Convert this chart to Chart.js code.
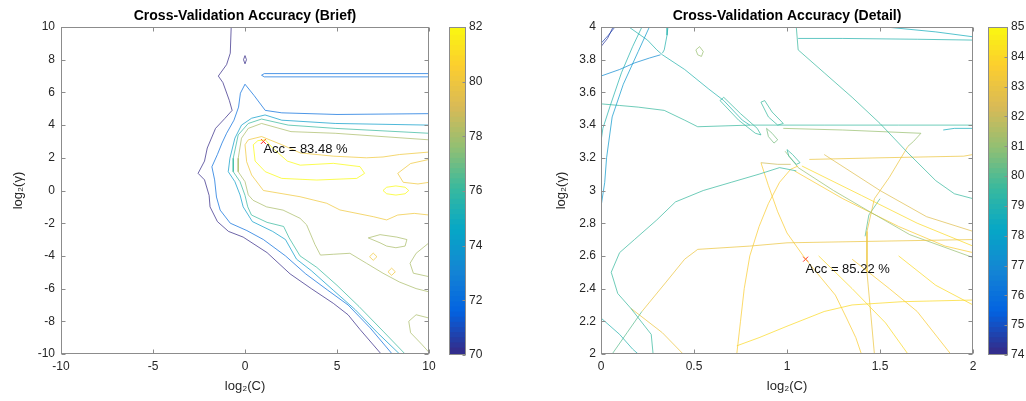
<!DOCTYPE html>
<html>
<head>
<meta charset="utf-8">
<script src="https://cdn.jsdelivr.net/npm/chart.js@4.4.1/dist/chart.umd.min.js"></script>
<style>
  body { margin: 0; background: #fff; width: 1026px; height: 401px; overflow: hidden; position: relative; }
  canvas { position: absolute; top: 0; }
</style>
</head>
<body>
<canvas id="brief" width="445" height="401" style="left:0px"></canvas>
<canvas id="briefBar" width="60" height="401" style="left:440px"></canvas>
<canvas id="detail" width="470" height="401" style="left:520px"></canvas>
<canvas id="detailBar" width="46" height="401" style="left:980px"></canvas>
<script>
// ---- brief grid search: log2(C) x log2(gamma), accuracy contours (%)
var briefXTicks = [-10, -5, 0, 5, 10];
var briefYTicks = [-10, -8, -6, -4, -2, 0, 2, 4, 6, 8, 10];
var briefCbarTicks = [70, 72, 74, 76, 78, 80, 82];
var briefBest = [1, 3];
var briefAcc = 83.48;

var brief70 = [[-0.75,10],[-0.8,8.4],[-1.0,7.7],[-1.45,7.0],[-1.2,6.6],[-0.85,5.5],[-0.7,4.9],[-1.1,4.4],[-1.6,3.8],[-2.05,2.6],[-2.2,1.8],[-2.55,1.05],[-2.2,0.65],[-1.95,-0.3],[-1.9,-1.0],[-1.5,-1.9],[-0.9,-2.5],[-0.1,-2.85],[1.2,-3.8],[2.45,-5.1],[3.6,-6.0],[4.8,-6.9],[5.6,-7.6],[6.25,-8.5],[7.4,-10]];
var brief70dot = [[0,8.25],[0.08,8],[0,7.75],[-0.08,8],[0,8.25]];
var brief72 = [[10,4.7],[5,4.65],[2,4.75],[1.1,4.9],[0.5,5.8],[0,6.5],[-0.25,5.95],[-0.35,5.1],[-0.6,4.3],[-1.0,3.5],[-1.25,2.9],[-1.5,2.2],[-1.8,1.45],[-1.65,0.65],[-1.55,-0.4],[-1.35,-1.2],[-0.8,-2.0],[0.1,-2.45],[1.0,-3.0],[2.2,-4.0],[3.3,-5.1],[4.5,-6.1],[5.6,-7.0],[6.8,-8.4],[8.0,-10]];
var brief72band = [[10,7.15],[1.05,7.15],[0.9,7.05],[1.05,6.95],[10,6.95]];
var brief74 = [[10,4.0],[4.9,4.1],[2.0,4.3],[1.09,4.62],[0.36,4.42],[-0.19,4.0],[-0.55,3.2],[-0.82,1.97],[-0.91,1.15],[-0.55,0.54],[-0.27,-0.27],[-0.1,-1.0],[0.4,-1.9],[1.5,-2.5],[2.2,-3.0],[2.8,-4.2],[3.6,-4.9],[4.8,-6.1],[6.0,-7.3],[7.2,-8.7],[8.4,-10]];
var brief76 = [[10,3.5],[4.9,3.8],[2.35,4.0],[0.9,4.37],[0.18,4.1],[-0.37,3.4],[-0.64,1.97],[-0.64,1.15],[-0.27,0.54],[0,-0.3],[0.15,-1.0],[0.35,-1.5],[1.2,-1.95],[2.1,-2.2],[2.4,-2.9],[2.99,-4.0],[3.9,-4.7],[5.0,-5.8],[6.2,-7.1],[7.5,-8.6],[8.7,-10]];
var brief78 = [[10,3.1],[4.9,3.5],[2.5,3.6],[0.9,4.1],[0.18,3.8],[-0.19,3.2],[-0.37,1.97],[-0.37,1.15],[0,0.54],[0.18,-0.27],[0.44,-0.6],[1.17,-1.0],[2.07,-1.2],[2.99,-1.7],[3.35,-2.1],[3.8,-3.3],[4.1,-3.95],[4.8,-3.9],[5.7,-3.84],[6.6,-4.45],[7.5,-5.06],[8.4,-5.6],[9.3,-6.0],[10,-6.2]];
var brief78loop = [[6.7,-2.9],[7.34,-2.7],[8.25,-2.85],[8.8,-3.0],[8.7,-3.4],[8.2,-3.5],[7.7,-3.4],[7.34,-3.2],[6.7,-2.9]];
var brief78edge = [[10,-3.2],[9.3,-3.84],[8.97,-4.45],[9.15,-5.06],[10,-5.27]];
var brief78corner = [[10,-7.8],[9.3,-7.6],[8.9,-8.0],[9.0,-8.7],[9.6,-9.4],[10,-9.9]];
var brief80 = [[10,2.35],[8.4,2.2],[7.5,2.05],[6.6,2.0],[4.8,2.1],[3.0,2.3],[2.0,2.8],[0.9,3.3],[0.18,3.1],[0,2.8],[0.09,1.76],[0.36,0.95],[1.0,0.0],[2.99,-0.38],[4.44,-0.78],[5.16,-1.19],[6.97,-1.6],[7.7,-1.8],[8.3,-1.5],[9.2,-1.4],[10,-1.5]];
var brief80edge = [[10,1.9],[9.0,1.65],[8.3,1.05],[8.6,0.5],[9.4,0.4],[10,0.5]];
var brief80dotA = [[6.97,-3.83],[7.17,-4.05],[6.97,-4.27],[6.77,-4.05],[6.97,-3.83]];
var brief80dotB = [[7.97,-4.75],[8.17,-4.97],[7.97,-5.19],[7.77,-4.97],[7.97,-4.75]];
var brief82 = [[0.45,2.8],[0.55,1.8],[1.1,1.15],[2.0,0.74],[3.9,0.64],[6.07,0.74],[6.5,1.05],[6.25,1.46],[4.8,1.66],[3.0,1.55],[2.3,1.8],[1.5,2.6],[1.1,3.1],[0.7,3.05],[0.45,2.8]];
var brief82ring = [[7.5,0],[7.7,0.2],[8.2,0.28],[8.7,0.2],[8.9,0],[8.7,-0.2],[8.2,-0.28],[7.7,-0.2],[7.5,0]];

var briefLines = [
  [70, brief70], [70, brief70dot], [72, brief72], [72, brief72band], [74, brief74], [76, brief76],
  [78, brief78], [78, brief78loop], [78, brief78edge], [78, brief78corner],
  [80, brief80], [80, brief80edge], [80, brief80dotA], [80, brief80dotB], [82, brief82], [82, brief82ring]
];

// ---- detail grid search
var detailXTicks = [0, 0.5, 1, 1.5, 2];
var detailYTicks = [2, 2.2, 2.4, 2.6, 2.8, 3, 3.2, 3.4, 3.6, 3.8, 4];
var detailCbarTicks = [74, 75, 76, 77, 78, 79, 80, 81, 82, 83, 84, 85];
var detailBest = [1.1, 2.58];
var detailAcc = 85.22;

var detA = [[0,3.9],[0.04,3.95],[0.075,4.0]];
var detA2 = [[0,3.88],[0.035,3.93],[0.065,4.0]];
var detB = [[0,3.70],[0.1,3.74],[0.18,3.78],[0.26,3.81],[0.32,3.83]];
var detC1 = [[0,2.9],[0.02,3.05],[0.03,3.2],[0.06,3.45],[0.12,3.65],[0.2,3.85],[0.26,4.0]];
var detC2 = [[0,3.3],[0.01,3.38],[0.05,3.52],[0.11,3.72],[0.17,3.88],[0.22,4.0]];
var detD = [[0.15,4.0],[0.25,3.92],[0.3,3.86],[0.33,3.83],[0.45,3.74],[0.58,3.62],[0.66,3.55],[0.76,3.43],[0.8,3.4]];
var detD2 = [[0.36,4.0],[0.355,3.95],[0.34,3.86],[0.33,3.84]];
var detE = [[0,3.53],[0.1,3.52],[0.2,3.51],[0.34,3.49],[0.45,3.43],[0.52,3.39],[0.8,3.40],[1.2,3.40],[1.6,3.40],[2.0,3.40]];
var detE2 = [[1.84,3.37],[1.9,3.38],[2.0,3.38]];
var detF = [[0.51,3.86],[0.53,3.88],[0.55,3.85],[0.54,3.82],[0.52,3.83],[0.51,3.86]];
var detG1 = [[0.64,3.55],[0.66,3.57],[0.75,3.47],[0.84,3.38],[0.86,3.34],[0.83,3.35],[0.74,3.43],[0.64,3.55]];
var detG2 = [[0.86,3.54],[0.88,3.55],[0.92,3.48],[0.98,3.41],[0.95,3.40],[0.9,3.45],[0.86,3.54]];
var detG3 = [[0.89,3.38],[0.92,3.35],[0.95,3.31],[0.93,3.29],[0.9,3.33],[0.89,3.38]];
var detG4 = [[1.0,3.25],[1.03,3.22],[1.07,3.17],[1.05,3.16],[1.01,3.21],[1.0,3.25]];
var detH = [[0.28,2.0],[0.27,2.12],[0.16,2.28],[0.09,2.37],[0.055,2.5],[0.1,2.62],[0.18,2.7],[0.3,2.82],[0.4,2.93],[0.55,3.0],[0.7,3.05],[0.85,3.1],[0.96,3.14],[1.05,3.12]];
var detI1 = [[0,2.22],[0.1,2.12],[0.17,2.03],[0.2,2.0]];
var detI2 = [[0.06,2.0],[0.14,2.13],[0.22,2.26]];
var detJ = [[0.22,2.26],[0.35,2.44],[0.45,2.58],[0.52,2.64],[0.8,2.66],[1.0,2.68],[1.5,2.69],[2.0,2.7]];
var detK1 = [[0.73,2.0],[0.75,2.2],[0.77,2.4],[0.8,2.6],[0.85,2.78],[0.9,2.92],[0.96,3.05],[1.02,3.13],[1.06,3.15]];
var detK2 = [[0.73,2.05],[0.85,2.1],[1.0,2.17],[1.2,2.26],[1.35,2.3],[1.62,2.32],[2.0,2.33]];
var detL = [[0.86,3.17],[0.9,3.03],[0.95,2.87],[1.0,2.74],[1.05,2.66],[1.1,2.58],[1.18,2.47],[1.26,2.36],[1.32,2.22],[1.37,2.1],[1.4,2.0]];
var detM = [[0.86,3.17],[0.95,3.16],[1.02,3.16]];
var detN = [[1.05,4.0],[1.06,3.86],[1.2,3.72],[1.35,3.57],[1.5,3.41],[1.65,3.23],[1.8,3.06],[1.9,2.98],[2.0,2.95]];
var detN2 = [[1.06,3.93],[1.3,3.93],[1.7,3.925],[2.0,3.92]];
var detN3 = [[1.53,4.0],[1.8,3.97],[2.0,3.94]];
var detO = [[0.98,3.38],[1.3,3.37],[1.72,3.35],[1.68,3.3],[1.65,3.27]];
var detP = [[1.12,3.19],[1.5,3.2],[1.95,3.21],[2.0,3.22]];
var detQ1 = [[0.99,3.24],[1.06,3.14],[1.25,3.0],[1.43,2.88],[1.66,2.73],[2.0,2.59]];
var detQ2 = [[1.04,3.12],[1.3,2.95],[1.6,2.78],[1.85,2.66],[2.0,2.62]];
var detQ3 = [[1.08,3.15],[1.4,2.97],[1.7,2.8],[2.0,2.66]];
var detQ4 = [[1.2,3.22],[1.5,3.0],[1.75,2.84],[2.0,2.75]];
var detR1 = [[1.17,2.6],[1.35,2.4],[1.53,2.19],[1.65,2.0]];
var detR2 = [[1.35,2.58],[1.55,2.4],[1.7,2.26],[1.88,2.0]];
var detR3 = [[1.6,2.6],[1.8,2.42],[2.0,2.3]];
var detS = [[0.16,2.28],[0.33,2.13],[0.45,1.99]];
var detT = [[1.65,3.27],[1.55,3.08],[1.47,2.95],[1.43,2.75],[1.43,2.5],[1.45,2.25],[1.47,2.0]];
var detU = [[1.42,2.72],[1.44,2.85],[1.5,2.95]];

var detailLines = [
  [74.6, detA], [74.3, detA2], [77, detB], [77.5, detC1], [79, detC2], [79, detD], [79, detD2],
  [79.5, detE], [78.5, detE2], [81, detF], [79.5, detG1], [79.5, detG2], [80.5, detG3], [79.5, detG4],
  [79.5, detH], [79, detI1], [80, detI2], [83, detJ], [83.5, detK1], [84, detK2], [83.5, detL], [82, detM],
  [79.5, detN], [79, detN2], [78.5, detN3], [81, detO], [83, detP], [81, detQ1], [83.5, detQ2], [84, detQ3],
  [82.5, detQ4], [84, detR1], [83.5, detR2], [84, detR3], [83, detS], [83, detT], [80, detU]
];

// parula-like colormap
var parulaStops = [[53,42,135],[3,99,225],[20,133,212],[6,167,198],[56,185,158],[146,191,115],[217,186,86],[252,206,46],[249,251,14]];
function parula(t, a) {
  t = Math.max(0, Math.min(1, t)) * 8;
  var i = Math.min(7, Math.floor(t)), f = t - i;
  var c0 = parulaStops[i], c1 = parulaStops[i + 1];
  var c = c0.map(function(v, k) { return Math.round(v + (c1[k] - v) * f); });
  return 'rgba(' + c[0] + ',' + c[1] + ',' + c[2] + ',' + (a == null ? 1 : a) + ')';
}

var FONT = '"Liberation Sans", Arial, Helvetica, sans-serif';
var TXT = '#262626';
var AXIS = '#8c8c8c';

function tickText(v) { return String(Math.round(v * 10) / 10); }

// axes box with inward ticks on all sides (matlab style)
var boxTicks = {
  id: 'boxTicks',
  afterDraw: function(chart, args, o) {
    var ctx = chart.ctx, a = chart.chartArea;
    var L = Math.round(a.left) + 0.5, R = Math.round(a.right) - 0.5;
    var T = Math.round(a.top) + 0.5, B = Math.round(a.bottom) - 0.5;
    ctx.save();
    ctx.strokeStyle = AXIS;
    ctx.lineWidth = 1;
    ctx.strokeRect(L, T, R - L, B - T);
    ctx.beginPath();
    o.axes.forEach(function(id) {
      var s = chart.scales[id];
      s.ticks.forEach(function(t) {
        var p = Math.round(s.getPixelForValue(t.value)) + 0.5;
        if (s.isHorizontal()) {
          ctx.moveTo(p, B); ctx.lineTo(p, B - o.len);
          ctx.moveTo(p, T); ctx.lineTo(p, T + o.len);
        } else {
          if (o.left) { ctx.moveTo(L, p); ctx.lineTo(L + o.len, p); }
          ctx.moveTo(R, p); ctx.lineTo(R - o.len, p);
        }
      });
    });
    ctx.stroke();
    ctx.restore();
  }
};

var accLabel = {
  id: 'accLabel',
  afterDatasetsDraw: function(chart, args, o) {
    var ctx = chart.ctx, x = chart.scales.x, y = chart.scales.y;
    ctx.save();
    ctx.font = '13px ' + FONT;
    ctx.fillStyle = '#111';
    ctx.textBaseline = 'middle';
    ctx.textAlign = 'left';
    ctx.fillText(o.text, x.getPixelForValue(o.at[0]), y.getPixelForValue(o.at[1]));
    ctx.restore();
  }
};

function contourChart(id, c) {
  var datasets = c.lines.map(function(l) {
    return {
      data: l[1].map(function(p) { return {x: p[0], y: p[1]}; }),
      showLine: true,
      borderColor: parula((l[0] - c.cmin) / (c.cmax - c.cmin), 0.72),
      borderWidth: 1,
      pointRadius: 0,
      pointHoverRadius: 0,
      fill: false
    };
  });
  datasets.push({
    data: [{x: c.best[0], y: c.best[1]}],
    showLine: false,
    pointStyle: 'crossRot',
    pointRadius: 3.5,
    borderColor: '#ff2a2a',
    borderWidth: 1
  });
  return new Chart(document.getElementById(id), {
    type: 'scatter',
    data: {datasets: datasets},
    options: {
      responsive: false,
      animation: false,
      events: [],
      layout: {padding: {right: c.padRight}},
      plugins: {
        legend: {display: false},
        tooltip: {enabled: false},
        title: {
          display: true, text: c.title, color: '#000', fullSize: false,
          font: {family: FONT, size: 14, weight: 'bold'},
          padding: {top: 8.1, bottom: 2.1}
        },
        boxTicks: {axes: ['x', 'y'], len: 4, left: true},
        accLabel: {text: 'Acc = ' + c.acc.toFixed(2) + ' %', at: c.textAt}
      },
      scales: {
        x: {
          type: 'linear', min: c.xTicks[0], max: c.xTicks[c.xTicks.length - 1],
          afterBuildTicks: function(s) { s.ticks = c.xTicks.map(function(v) { return {value: v}; }); },
          grid: {display: false, drawTicks: false},
          border: {display: false},
          ticks: {color: TXT, font: {family: FONT, size: 12}, padding: 5.8, maxRotation: 0, autoSkip: false, callback: tickText},
          title: {display: true, text: 'log\u2082(C)', color: TXT, font: {family: FONT, size: 13}, padding: {top: 0, bottom: 7.2}},
          afterFit: function(s) { s.height = 47; }
        },
        y: {
          type: 'linear', min: c.yTicks[0], max: c.yTicks[c.yTicks.length - 1],
          afterBuildTicks: function(s) { s.ticks = c.yTicks.map(function(v) { return {value: v}; }); },
          grid: {display: false, drawTicks: false},
          border: {display: false},
          ticks: {color: TXT, font: {family: FONT, size: 12}, padding: c.yTickPad, autoSkip: false, callback: tickText},
          title: {display: true, text: 'log\u2082(\u03b3)', color: TXT, font: {family: FONT, size: 13}, padding: {top: c.yTitlePad, bottom: 0}},
          afterFit: function(s) { s.width = c.yWidth; }
        }
      }
    },
    plugins: [boxTicks, accLabel]
  });
}

function colorbar(id, ticks, padLeft, barWidthAxis) {
  var lo = ticks[0], hi = ticks[ticks.length - 1], n = 64, step = (hi - lo) / n;
  var datasets = [];
  for (var i = 0; i < n; i++) {
    datasets.push({
      data: [[lo + i * step, Math.min(hi, lo + (i + 1.4) * step)]],
      backgroundColor: parula((i + 0.5) / n),
      borderWidth: 0,
      grouped: false,
      barPercentage: 1,
      categoryPercentage: 1
    });
  }
  return new Chart(document.getElementById(id), {
    type: 'bar',
    data: {labels: [''], datasets: datasets},
    options: {
      responsive: false,
      animation: false,
      events: [],
      layout: {padding: {left: padLeft, top: 27, bottom: 46}},
      plugins: {
        legend: {display: false},
        tooltip: {enabled: false},
        boxTicks: {axes: ['y'], len: 3, left: false}
      },
      scales: {
        x: {display: false},
        y: {
          position: 'right', min: lo, max: hi,
          afterBuildTicks: function(s) { s.ticks = ticks.map(function(v) { return {value: v}; }); },
          grid: {display: false, drawTicks: false},
          border: {display: false},
          ticks: {color: TXT, font: {family: FONT, size: 12}, padding: 3, autoSkip: false, callback: tickText},
          afterFit: function(s) { s.width = barWidthAxis; }
        }
      }
    },
    plugins: [boxTicks]
  });
}

contourChart('brief', {
  title: 'Cross-Validation Accuracy (Brief)',
  lines: briefLines, cmin: briefCbarTicks[0], cmax: briefCbarTicks[briefCbarTicks.length - 1],
  xTicks: briefXTicks, yTicks: briefYTicks,
  best: briefBest, acc: briefAcc, textAt: [briefBest[0], briefBest[1] - 0.5],
  yWidth: 61, yTickPad: 6, yTitlePad: 10.5, padRight: 16
});
colorbar('briefBar', briefCbarTicks, 9, 34);

contourChart('detail', {
  title: 'Cross-Validation Accuracy (Detail)',
  lines: detailLines, cmin: detailCbarTicks[0], cmax: detailCbarTicks[detailCbarTicks.length - 1],
  xTicks: detailXTicks, yTicks: detailYTicks,
  best: detailBest, acc: detailAcc, textAt: [detailBest[0], detailBest[1] - 0.06],
  yWidth: 81, yTickPad: 5, yTitlePad: 33.9, padRight: 17
});
colorbar('detailBar', detailCbarTicks, 8, 18);
</script>
</body>
</html>
